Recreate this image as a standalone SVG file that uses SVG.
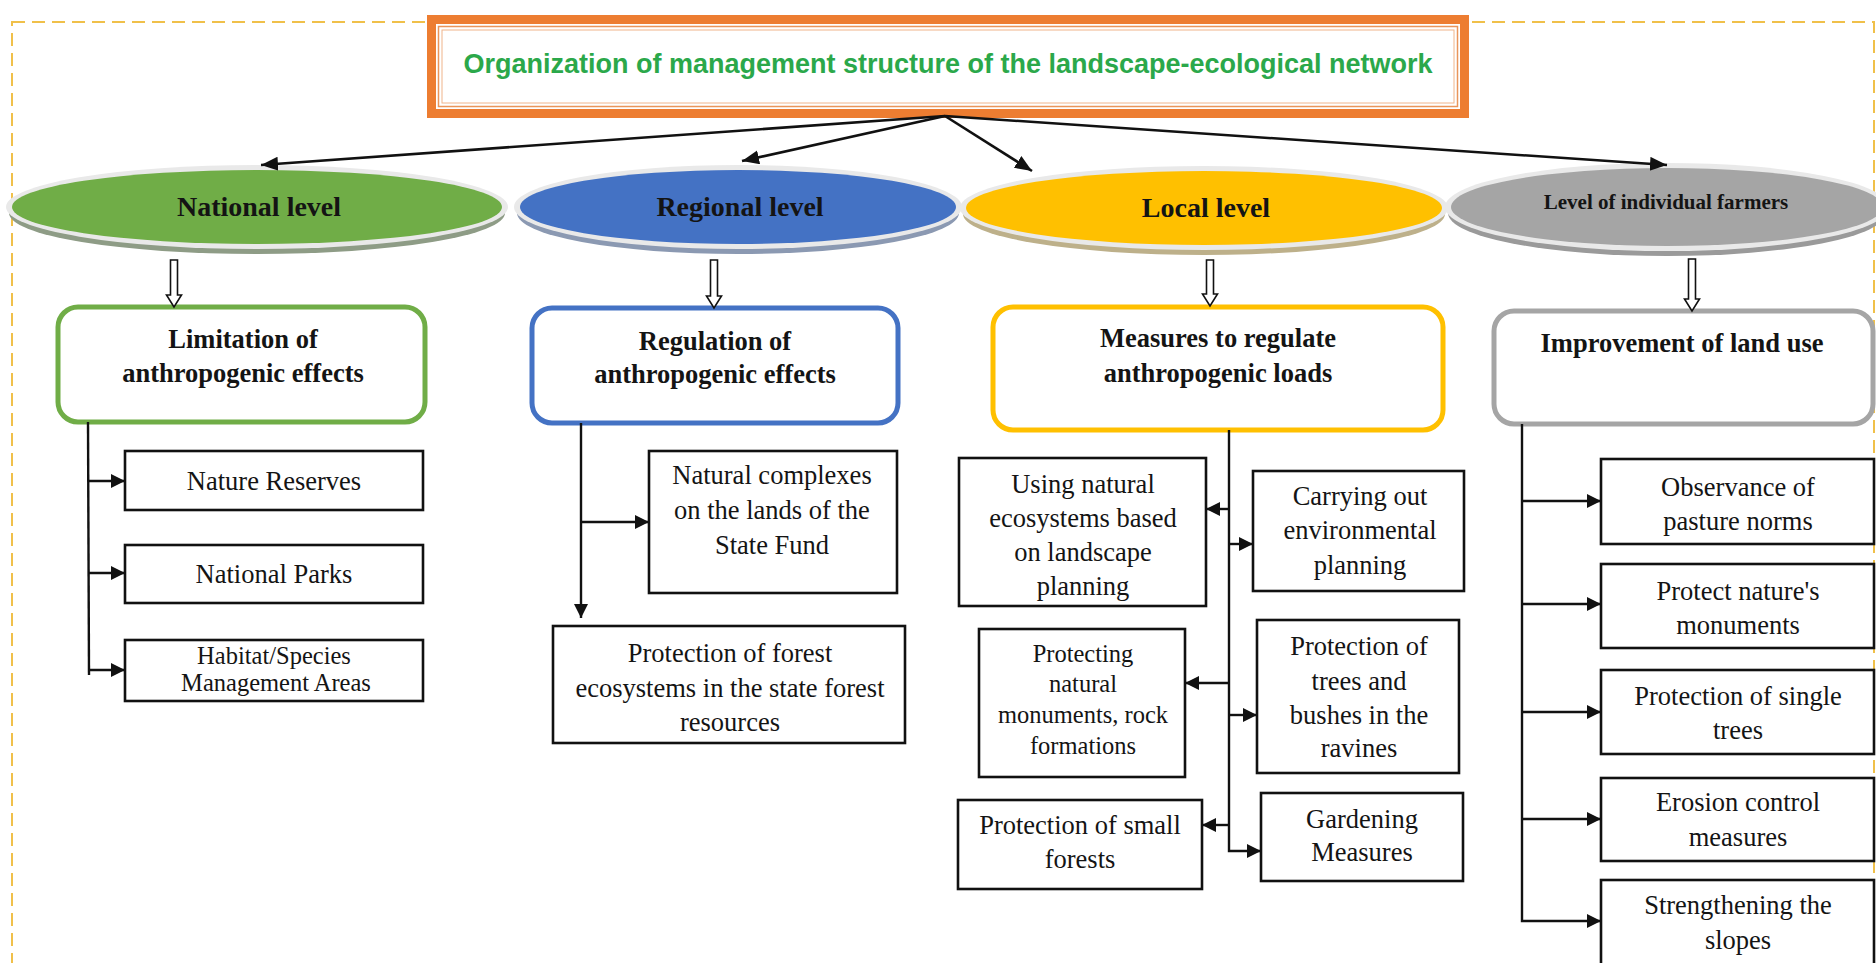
<svg xmlns="http://www.w3.org/2000/svg" width="1876" height="963" viewBox="0 0 1876 963">
  <style>
    .frame { fill: none; stroke: #F0C04A; stroke-width: 2; stroke-dasharray: 13 7; }
    .title { font-family: "Liberation Sans", Arial, sans-serif; font-weight: bold; font-size: 27px; fill: #2BA84A; text-anchor: middle; }
    .lvl { font-family: "Liberation Serif", "Times New Roman", serif; font-weight: bold; font-size: 28px; fill: #141414; text-anchor: middle; }
    .lvl-sm { font-size: 21px; }
    .hdr { font-family: "Liberation Serif", "Times New Roman", serif; font-weight: bold; font-size: 26.5px; fill: #141414; text-anchor: middle; }
    .txt { font-family: "Liberation Serif", "Times New Roman", serif; font-size: 26.5px; fill: #141414; text-anchor: middle; }
    .txt-sm { font-size: 24.5px; }
    .rim { fill: #E9E9E9; }
    .item { fill: #FFFFFF; stroke: #111111; stroke-width: 2.6; }
    .head { fill: #FFFFFF; stroke-width: 5; }
    .link { fill: none; stroke: #111111; stroke-width: 2.4; }
    .link-a { fill: none; stroke: #111111; stroke-width: 2.4; marker-end: url(#tip); }
    .link-b { fill: none; stroke: #111111; stroke-width: 2.6; marker-end: url(#tip-lg); }
    .hollow { fill: #FFFFFF; stroke: #111111; stroke-width: 1.6; stroke-linejoin: miter; }
  </style>
  <defs>
    <marker id="tip" markerUnits="userSpaceOnUse" markerWidth="16" markerHeight="16" refX="14" refY="7" orient="auto">
      <path d="M0,0 L14,7 L0,14 Z" fill="#111111"/>
    </marker>
    <marker id="tip-lg" markerUnits="userSpaceOnUse" markerWidth="18" markerHeight="16" refX="17" refY="7" orient="auto">
      <path d="M0,0 L17,7 L0,14 Z" fill="#111111"/>
    </marker>
  </defs>

  <rect width="1876" height="963" fill="#FFFFFF"/>

  <!-- dashed outer frame -->
  <rect class="frame" x="12" y="22" width="1862" height="960"/>

  <!-- title -->
  <g id="title">
    <rect x="427" y="15" width="1042" height="103" fill="#ED7D31"/>
    <rect x="436" y="24" width="1024" height="85" fill="#FFFFFF"/>
    <rect x="438.5" y="26.5" width="1019" height="80" fill="none" stroke="#E9955A" stroke-width="1.5"/>
    <rect x="442" y="30" width="1012" height="73" fill="none" stroke="#F0B48A" stroke-width="1"/>
    <text class="title" x="948" y="73">Organization of management structure of the landscape-ecological network</text>
  </g>

  <!-- level ellipses -->
  <g id="national-level">
    <ellipse cx="257" cy="213" rx="248" ry="41" fill="#8E9C86"/>
    <ellipse class="rim" cx="257" cy="207" rx="251" ry="42"/>
    <ellipse cx="257" cy="207" rx="245" ry="37" fill="#70AD47"/>
    <text class="lvl" x="259" y="216">National level</text>
  </g>
  <g id="regional-level">
    <ellipse cx="738" cy="213" rx="221" ry="41" fill="#8B99B2"/>
    <ellipse class="rim" cx="738" cy="207" rx="224" ry="42"/>
    <ellipse cx="738" cy="207" rx="218" ry="37" fill="#4472C4"/>
    <text class="lvl" x="740" y="216">Regional level</text>
  </g>
  <g id="local-level">
    <ellipse cx="1204" cy="214" rx="241" ry="41" fill="#BDB08A"/>
    <ellipse class="rim" cx="1204" cy="208" rx="244" ry="42"/>
    <ellipse cx="1204" cy="208" rx="238" ry="37" fill="#FFC000"/>
    <text class="lvl" x="1206" y="217">Local level</text>
  </g>
  <g id="farmers-level">
    <ellipse cx="1667" cy="213" rx="219" ry="43" fill="#9A9A9A"/>
    <ellipse class="rim" cx="1667" cy="207" rx="222" ry="44"/>
    <ellipse cx="1667" cy="207" rx="216" ry="39" fill="#A5A5A5"/>
    <text class="lvl lvl-sm" x="1666" y="209">Level of individual farmers</text>
  </g>

  <!-- second-level headers -->
  <g id="limitation">
    <rect class="head" x="58" y="307" width="367" height="115" rx="20" stroke="#70AD47"/>
    <text class="hdr" x="243" y="348">Limitation of</text>
    <text class="hdr" x="243" y="382">anthropogenic effects</text>
  </g>
  <g id="regulation">
    <rect class="head" x="532" y="308" width="366" height="115" rx="20" stroke="#4472C4"/>
    <text class="hdr" x="715" y="350">Regulation of</text>
    <text class="hdr" x="715" y="383">anthropogenic effects</text>
  </g>
  <g id="measures">
    <rect class="head" x="993" y="307" width="450" height="123" rx="20" stroke="#FFC000"/>
    <text class="hdr" x="1218" y="347">Measures to regulate</text>
    <text class="hdr" x="1218" y="382">anthropogenic loads</text>
  </g>
  <g id="improvement">
    <rect class="head" x="1494" y="311" width="379" height="113" rx="20" stroke="#A5A5A5"/>
    <text class="hdr" x="1682" y="352">Improvement  of land use</text>
  </g>

  <!-- national measures -->
  <g id="nature-reserves">
    <rect class="item" x="125" y="451" width="298" height="59"/>
    <text class="txt" x="274" y="490">Nature Reserves</text>
  </g>
  <g id="national-parks">
    <rect class="item" x="125" y="545" width="298" height="58"/>
    <text class="txt" x="274" y="583">National Parks</text>
  </g>
  <g id="habitat-areas">
    <rect class="item" x="125" y="640" width="298" height="61"/>
    <text class="txt txt-sm" x="274" y="664">Habitat/Species</text>
    <text class="txt txt-sm" x="276" y="691">Management Areas</text>
  </g>

  <!-- regional measures -->
  <g id="natural-complexes">
    <rect class="item" x="649" y="451" width="248" height="142"/>
    <text class="txt" x="772" y="484">Natural complexes</text>
    <text class="txt" x="772" y="519">on the lands of the</text>
    <text class="txt" x="772" y="554">State Fund</text>
  </g>
  <g id="forest-protection">
    <rect class="item" x="553" y="626" width="352" height="117"/>
    <text class="txt" x="730" y="662">Protection of forest</text>
    <text class="txt" x="730" y="697">ecosystems  in the state forest</text>
    <text class="txt" x="730" y="731">resources</text>
  </g>

  <!-- local measures -->
  <g id="using-ecosystems">
    <rect class="item" x="959" y="458" width="247" height="148"/>
    <text class="txt" x="1083" y="493">Using natural</text>
    <text class="txt" x="1083" y="527">ecosystems  based</text>
    <text class="txt" x="1083" y="561">on landscape</text>
    <text class="txt" x="1083" y="595">planning</text>
  </g>
  <g id="environmental-planning">
    <rect class="item" x="1253" y="471" width="211" height="120"/>
    <text class="txt" x="1360" y="505">Carrying  out</text>
    <text class="txt" x="1360" y="539">environmental</text>
    <text class="txt" x="1360" y="574">planning</text>
  </g>
  <g id="natural-monuments">
    <rect class="item" x="979" y="629" width="206" height="148"/>
    <text class="txt txt-sm" x="1083" y="662">Protecting</text>
    <text class="txt txt-sm" x="1083" y="692">natural</text>
    <text class="txt txt-sm" x="1083" y="723">monuments, rock</text>
    <text class="txt txt-sm" x="1083" y="754">formations</text>
  </g>
  <g id="trees-bushes">
    <rect class="item" x="1257" y="620" width="202" height="153"/>
    <text class="txt" x="1359" y="655">Protection of</text>
    <text class="txt" x="1359" y="690">trees and</text>
    <text class="txt" x="1359" y="724">bushes in the</text>
    <text class="txt" x="1359" y="757">ravines</text>
  </g>
  <g id="small-forests">
    <rect class="item" x="958" y="800" width="244" height="89"/>
    <text class="txt" x="1080" y="834">Protection of small</text>
    <text class="txt" x="1080" y="868">forests</text>
  </g>
  <g id="gardening">
    <rect class="item" x="1261" y="793" width="202" height="88"/>
    <text class="txt" x="1362" y="828">Gardening</text>
    <text class="txt" x="1362" y="861">Measures</text>
  </g>

  <!-- farmers' measures -->
  <g id="pasture-norms">
    <rect class="item" x="1601" y="459" width="273" height="85"/>
    <text class="txt" x="1738" y="496">Observance  of</text>
    <text class="txt" x="1738" y="530">pasture norms</text>
  </g>
  <g id="nature-monuments">
    <rect class="item" x="1601" y="564" width="273" height="84"/>
    <text class="txt" x="1738" y="600">Protect nature's</text>
    <text class="txt" x="1738" y="634">monuments</text>
  </g>
  <g id="single-trees">
    <rect class="item" x="1601" y="670" width="273" height="84"/>
    <text class="txt" x="1738" y="705">Protection of single</text>
    <text class="txt" x="1738" y="739">trees</text>
  </g>
  <g id="erosion-control">
    <rect class="item" x="1601" y="778" width="273" height="83"/>
    <text class="txt" x="1738" y="811">Erosion control</text>
    <text class="txt" x="1738" y="846">measures</text>
  </g>
  <g id="slopes">
    <rect class="item" x="1601" y="880" width="273" height="100"/>
    <text class="txt" x="1738" y="914">Strengthening  the</text>
    <text class="txt" x="1738" y="949">slopes</text>
  </g>

  <!-- connectors -->
  <g id="connectors">
    <!-- title to levels -->
    <path class="link-b" d="M945,116 L261,165"/>
    <path class="link-b" d="M945,116 L742,161"/>
    <path class="link-b" d="M945,116 L1032,171"/>
    <path class="link-b" d="M945,116 L1667,165"/>

    <!-- levels to headers (outlined block arrows) -->
    <path class="hollow" d="M170.5,260 H177.5 V295 H181.5 L174,307 L166.5,295 H170.5 Z"/>
    <path class="hollow" d="M710.5,260 H717.5 V296 H721.5 L714,308 L706.5,296 H710.5 Z"/>
    <path class="hollow" d="M1206.5,260 H1213.5 V294 H1217.5 L1210,306 L1202.5,294 H1206.5 Z"/>
    <path class="hollow" d="M1688.5,259 H1695.5 V299 H1699.5 L1692,311 L1684.5,299 H1688.5 Z"/>

    <!-- national branch -->
    <path class="link" d="M88,422 L89,675"/>
    <path class="link-a" d="M88,481 L125,481"/>
    <path class="link-a" d="M88,573 L125,573"/>
    <path class="link-a" d="M89,670 L125,670"/>

    <!-- regional branch -->
    <path class="link-a" d="M581,423 L581,618"/>
    <path class="link-a" d="M581,522 L649,522"/>

    <!-- local branch -->
    <path class="link-a" d="M1229,430 L1229,851 L1261,851"/>
    <path class="link-a" d="M1229,509 L1206,509"/>
    <path class="link-a" d="M1229,544 L1253,544"/>
    <path class="link-a" d="M1229,683 L1185,683"/>
    <path class="link-a" d="M1229,715 L1257,715"/>
    <path class="link-a" d="M1229,825 L1202,825"/>

    <!-- farmers branch -->
    <path class="link-a" d="M1522,424 L1522,921 L1601,921"/>
    <path class="link-a" d="M1522,501 L1601,501"/>
    <path class="link-a" d="M1522,604 L1601,604"/>
    <path class="link-a" d="M1522,712 L1601,712"/>
    <path class="link-a" d="M1522,819 L1601,819"/>
  </g>
</svg>
